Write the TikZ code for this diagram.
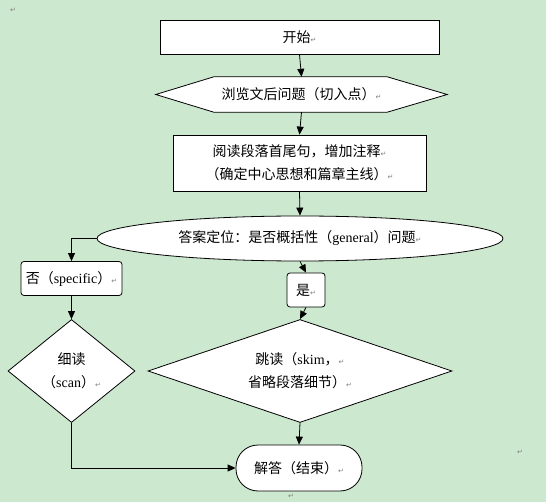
\documentclass[tikz,border=0pt]{standalone}
\usepackage{fontspec}
\setmainfont{Liberation Serif}
\newfontfamily\cjk{Noto Sans CJK SC}
\newfontfamily\symfont{DejaVu Sans}
\usetikzlibrary{shapes.geometric,arrows.meta,calc}
\definecolor{bgc}{RGB}{204,232,207}
\newcommand\retmark{{\symfont\color{gray}\fontsize{7}{7}\selectfont ↵}}
\tikzset{
  base/.style={draw=black,line width=0.8pt,fill=white,inner sep=0pt,font=\fontsize{14}{23}\selectfont,align=center},
  boxnode/.style={base,rectangle},
  rbox/.style={base,rectangle,rounded corners=3pt},
  ellnode/.style={base,ellipse},
  dia/.style={base,diamond},
  stadium/.style={base,rectangle,rounded corners=22pt},
  arr/.style={draw=black,line width=0.8pt,-{Triangle[length=8pt,width=7pt]}},
  ln/.style={draw=black,line width=0.8pt},
  pmk/.style={inner sep=0pt}
}
\begin{document}
\begin{tikzpicture}[x=1pt,y=-1pt]
\fill[bgc] (0,0) rectangle (546,502);
\useasboundingbox (0,0) rectangle (546,502);

\node[pmk] (m0) at (13,10) {\retmark};

\node[boxnode,minimum width=279pt,minimum height=34pt] (start) at (299.5,37) {{\cjk 开始}\retmark};

\node[inner sep=0pt,minimum width=291pt,minimum height=35pt,font=\fontsize{14}{23}\selectfont] (hex) at (301.5,94.5) {};
\draw[ln,fill=white] (hex.west) -- ($(hex.north west)+(58,0)$) -- ($(hex.north east)+(-60,0)$) -- (hex.east) -- ($(hex.south east)+(-60,0)$) -- ($(hex.south west)+(58,0)$) -- cycle;
\node[font=\fontsize{14}{23}\selectfont,inner sep=0pt] (hext) at (hex) {{\cjk 浏览文后问题（切入点）}\retmark};

\node[boxnode,minimum width=253pt,minimum height=56pt] (read) at (299.5,163) {{\cjk 阅读段落首尾句，增加注释}\retmark\\{\cjk （确定中心思想和篇章主线）}\retmark};

\node[ellnode,minimum width=406pt,minimum height=45pt] (ell) at (300,238.5) {{\cjk 答案定位：是否概括性（}general{\cjk ）问题}\retmark};

\node[rbox,minimum width=101pt,minimum height=34pt] (no) at (71.5,278.5) {{\cjk 否（}specific{\cjk ）}\retmark};
\node[rbox,minimum width=38pt,minimum height=34pt] (yes) at (306,290) {{\cjk 是}\retmark};

\node[dia,minimum width=127pt,minimum height=103pt,aspect=1.2] (scan) at (71.5,371) {{\cjk 细读}\\{\cjk （}scan{\cjk ）}\retmark};
\node[dia,minimum width=304pt,minimum height=103pt,aspect=3] (skim) at (300,371) {{\cjk 跳读（}skim{\cjk ，}\retmark\\{\cjk 省略段落细节）}\retmark};

\node[stadium,minimum width=126pt,minimum height=46pt] (end) at (299,468) {{\cjk 解答（结束）}\retmark};

\node[pmk] (m1) at (520,452) {\retmark};
\node[pmk] (m2) at (291,496) {\retmark};

\draw[arr] (start.south) -- (hex.north);
\draw[arr] (hex.south) -- (read.north);
\draw[arr] (read.south) -- (ell.north);
\draw[arr] (ell.west) -| (no.north);
\draw[arr] (ell.south) -- (yes.north);
\draw[arr] (no.south) -- (scan.north);
\draw[arr] (yes.south) -- (skim.north);
\draw[arr] (skim.south) -- (end.north);
\draw[arr] (scan.south) |- (end.west);
\end{tikzpicture}
\end{document}
